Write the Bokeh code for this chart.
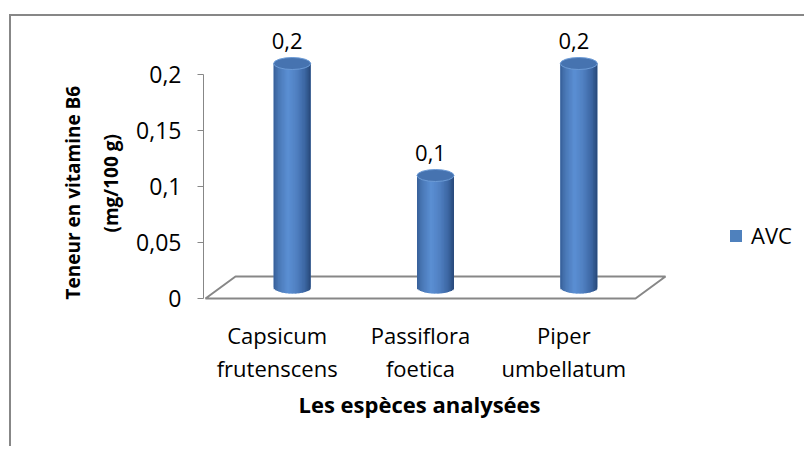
import numpy as np
from bokeh.plotting import figure
from bokeh.models import (FixedTicker, Range1d, Legend, LegendItem, Title, InlineStyleSheet)
from bokeh.core.properties import value
from bokeh.embed import file_html
from bokeh.resources import INLINE

# ---- data ----
categories = ["Capsicum\nfrutenscens", "Passiflora\nfoetica", "Piper\numbellatum"]
avc_values = [0.2, 0.1, 0.2]
value_labels = ["0,2", "0,1", "0,2"]
y_ticks = [0, 0.05, 0.1, 0.15, 0.2]
y_tick_labels = ["0", "0,05", "0,1", "0,15", "0,2"]
series_name = "AVC"
x_title = "Les espèces analysées"
y_title_lines = ["Teneur en vitamine B6", "(mg/100 g)"]

# ---- geometry / style ----
FONT = "Open Sans"
PX_X = 430 / 3.0          # pixels per category unit
PX_Y = 56 / 0.05          # pixels per y unit
DEPTH_X = 30 / PX_X       # 3D floor depth offsets
DEPTH_Y = 22 / PX_Y
CYL_W = 37 / PX_X
ELL_H = 12 / PX_Y
GRAY = "#878787"
W, H = 804, 446
FRAME_L, FRAME_T, FRAME_B = 203, 20, 300

n = len(categories)
idx = np.arange(n)

x0 = -0.5 - 2 / PX_X
y0 = -2 / PX_Y
p = figure(width=W, height=H,
           x_range=Range1d(x0, x0 + (W - FRAME_L) / PX_X),
           y_range=Range1d(y0, y0 + (FRAME_B - FRAME_T) / PX_Y),
           output_backend="svg", toolbar_location=None,
           min_border_left=FRAME_L, min_border_right=0,
           min_border_top=FRAME_T, min_border_bottom=H - FRAME_B,
           outline_line_color=None,
           background_fill_color="white", border_fill_color=None)
p.xgrid.visible = False
p.ygrid.visible = False
p.stylesheets = [InlineStyleSheet(css=(
    ":host { background: "
    "linear-gradient(#878787,#878787) 9px 14px / 2px 100% no-repeat, "
    "linear-gradient(#878787,#878787) 9px 14px / 100% 2px no-repeat, #ffffff; }"))]

# y axis
ya = p.yaxis[0]
ya.ticker = FixedTicker(ticks=y_ticks)
ya.major_label_overrides = {t: l for t, l in zip(y_ticks, y_tick_labels)}
ya.bounds = (min(y_ticks), max(y_ticks))
ya.axis_line_color = GRAY
ya.major_tick_line_color = GRAY
ya.minor_tick_line_color = None
ya.major_tick_out = 6
ya.major_tick_in = 0
ya.major_label_standoff = 16
ya.major_label_text_font = FONT
ya.major_label_text_font_size = "23px"
ya.major_label_text_color = "black"

# x axis
xa = p.xaxis[0]
xa.ticker = FixedTicker(ticks=list(idx))
xa.major_label_overrides = {int(i): c for i, c in zip(idx, categories)}
xa.bounds = (-0.5, n - 0.5)
xa.axis_line_color = None
xa.major_tick_line_color = None
xa.minor_tick_line_color = None
xa.major_tick_out = 0
xa.major_tick_in = 0
xa.major_label_standoff = 19
xa.major_label_text_font = FONT
xa.major_label_text_font_size = "22px"
xa.major_label_text_color = "black"
xa.major_label_text_line_height = 1.13

# axis titles (y title on two lines, inner line added first)
p.add_layout(Title(text=y_title_lines[1], align="left", offset=68, standoff=20,
                   text_font=FONT, text_font_size="19px", text_font_style="bold",
                   text_color="black"), "left")
p.add_layout(Title(text=y_title_lines[0], align="left", offset=1, standoff=0,
                   text_font=FONT, text_font_size="19px", text_font_style="bold",
                   text_color="black"), "left")
p.add_layout(Title(text=x_title, align="left", offset=95, standoff=1,
                   text_font=FONT, text_font_size="22px", text_font_style="bold",
                   text_color="black"), "below")

# floor (3D)
fx = [-0.5, n - 0.5, n - 0.5 + DEPTH_X, -0.5 + DEPTH_X]
fy = [0, 0, DEPTH_Y, DEPTH_Y]
p.patch(fx, fy, fill_color=None, line_color=GRAY, line_width=2)

# cylinders
cx = idx + DEPTH_X / 2
base = DEPTH_Y / 2
vals = np.array(avc_values)
body = p.quad(left=cx - CYL_W / 2, right=cx + CYL_W / 2, bottom=base, top=vals + base,
              fill_color="#4F81BD", line_color=None)

stops_u = [0.0, 0.12, 0.38, 0.62, 0.85, 1.0]
stops_c = np.array([(55, 95, 152), (72, 118, 180), (92, 144, 212),
                    (80, 128, 194), (60, 102, 162), (40, 72, 120)])
NS = 26
step = CYL_W / NS
L, R, B, T, C = [], [], [], [], []
for k in range(NS):
    u = (k + 0.5) / NS
    rgb = [int(np.interp(u, stops_u, stops_c[:, j])) for j in range(3)]
    col = "#%02x%02x%02x" % tuple(rgb)
    arc = (ELL_H / 2) * np.sqrt(max(0.0, 1 - (2 * u - 1) ** 2))
    for i in range(n):
        left = cx[i] - CYL_W / 2 + k * step
        L.append(left)
        R.append(min(left + step * 1.6, cx[i] + CYL_W / 2))
        B.append(base - arc)
        T.append(vals[i] + base)
        C.append(col)
p.quad(left=L, right=R, bottom=B, top=T, fill_color=C, line_color=None)

p.ellipse(x=cx, y=vals + base, width=CYL_W, height=ELL_H,
          fill_color="#4673B0", line_color="#6C9BD6", line_width=1)

# value labels
p.text(x=idx + 10 / PX_X, y=vals + 0.030, text=value_labels,
       text_align="center", text_baseline="alphabetic",
       text_font=value(FONT), text_font_size="22px", text_color="black")

# legend
legend = Legend(items=[LegendItem(label=series_name, renderers=[body])],
                location=(525, 50), border_line_color=None,
                background_fill_alpha=0, padding=0, margin=0, spacing=0,
                glyph_width=15, glyph_height=15, label_standoff=8,
                label_text_font=FONT, label_text_font_size="22px",
                label_text_color="black")
p.add_layout(legend)

open("out.html", "w").write(file_html(p, INLINE))
